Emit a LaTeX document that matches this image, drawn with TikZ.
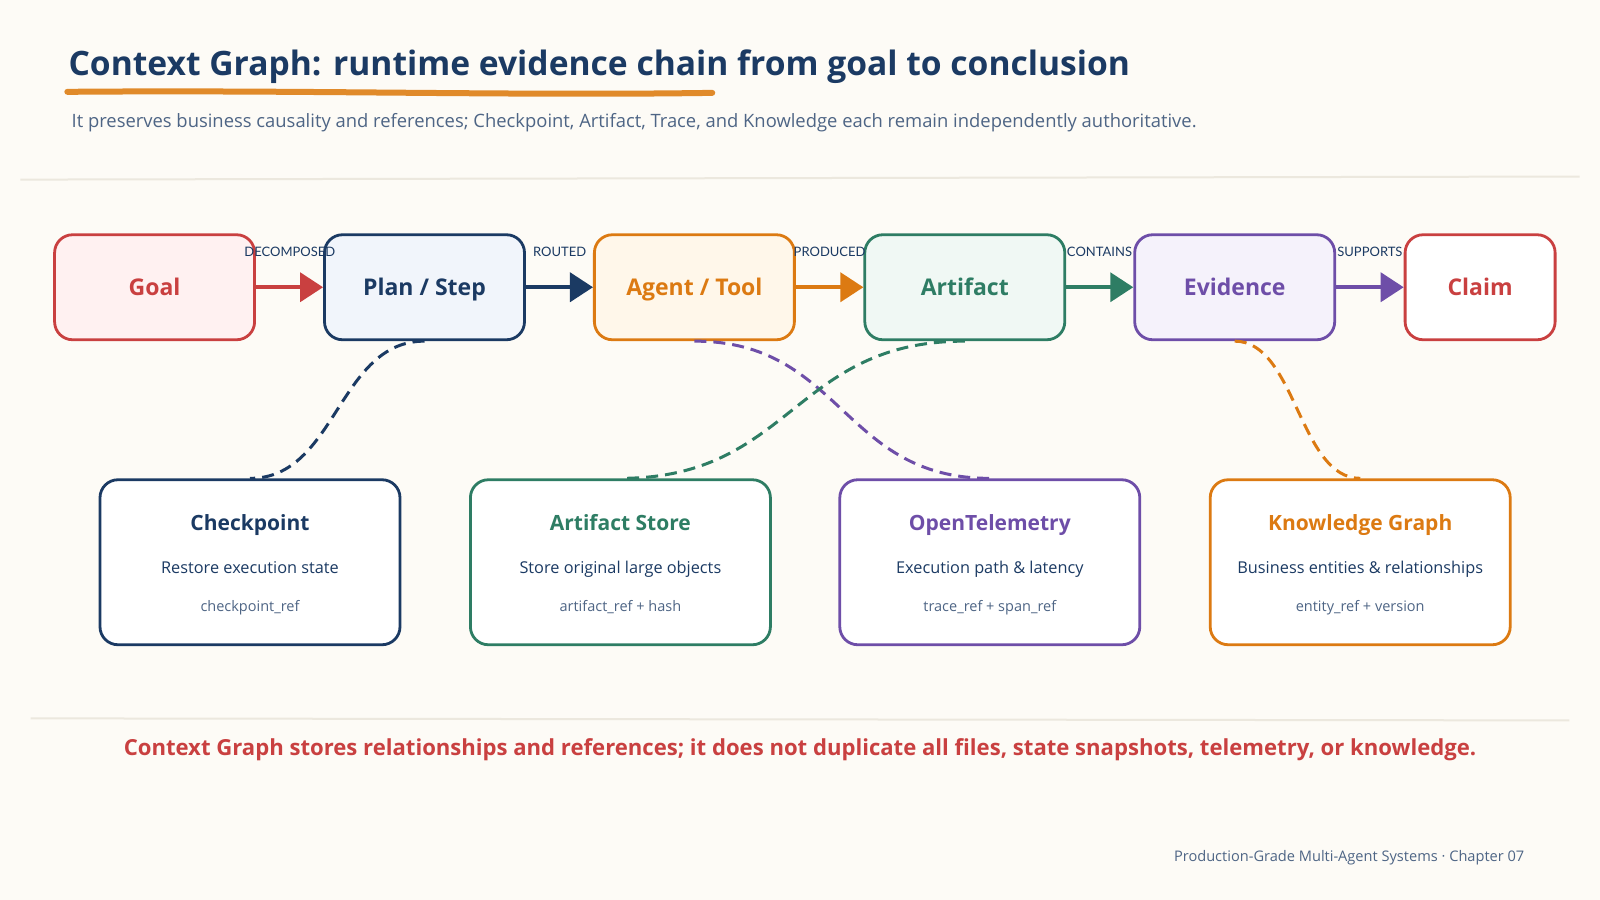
\documentclass[tikz,border=0pt]{standalone}
\usepackage{fontspec}
\setmainfont{Open Sans}
\newfontfamily\lblfont{Lato}
\usetikzlibrary{arrows.meta}
\definecolor{bg}{HTML}{FDFBF6}
\definecolor{navy}{HTML}{1B3A63}
\definecolor{cred}{HTML}{C94040}
\definecolor{corange}{HTML}{DC7A12}
\definecolor{cgreen}{HTML}{2E7D64}
\definecolor{cpurple}{HTML}{6E4EA8}
\definecolor{subgray}{HTML}{4E6585}
\definecolor{sepline}{HTML}{ECE8DE}
\definecolor{uline}{HTML}{E08A2A}
\definecolor{pinkfill}{HTML}{FFF1F1}
\definecolor{bluefill}{HTML}{F1F5FB}
\definecolor{creamfill}{HTML}{FFF7EA}
\definecolor{greenfill}{HTML}{F0F8F4}
\definecolor{lavfill}{HTML}{F5F2FB}
\newcommand{\fsz}[1]{\fontsize{#1}{#1}\selectfont}
\tikzset{
  topbox/.style={rectangle, rounded corners=18pt, line width=2.8pt, minimum width=200pt, minimum height=105pt, font=\fsz{23}\bfseries, inner sep=0pt, text height=16.5pt, text depth=0pt},
  botbox/.style={rectangle, rounded corners=18pt, line width=2.8pt, fill=white, minimum width=300pt, minimum height=165pt, inner sep=0pt},
  flow/.style={line width=3.8pt, -{Triangle[length=23pt,width=29pt]}},
  elabel/.style={font=\lblfont\fsz{13}, text=navy, inner sep=1pt},
  link/.style={line width=3pt, dash pattern=on 12pt off 7pt},
  btitle/.style={font=\fsz{21}\bfseries, inner sep=0pt, anchor=base},
  bdesc/.style={font=\fsz{16.3}, text=navy, inner sep=0pt, anchor=base},
  bref/.style={font=\fsz{14.5}, text=subgray, inner sep=0pt, anchor=base},
}
\begin{document}
\begin{tikzpicture}[x=1.0204pt, y=-1.0204pt]
\fill[bg] (0,0) rectangle (1568,882);
\useasboundingbox (0,0) rectangle (1568,882);

% title
\node[anchor=west, text=navy, font=\fsz{33.6}\bfseries, inner sep=0pt] (title) at (67,65.5) {Context Graph: runtime evidence chain from goal to conclusion};
\draw[uline, line width=6pt, line cap=round] (66,90) .. controls (300,88) and (500,94) .. (698,91);
\node[anchor=west, text=subgray, font=\fsz{18.4}, inner sep=0pt] (subtitle) at (70,120.5) {It preserves business causality and references; Checkpoint, Artifact, Trace, and Knowledge each remain independently authoritative.};
\draw[sepline, line width=2pt] (20,176) -- (1548,173);

% top row
\node[topbox, draw=cred, fill=pinkfill, text=cred] (goal) at (151.5,281.5) {Goal};
\node[topbox, draw=navy, fill=bluefill, text=navy] (plan) at (416,281.5) {Plan / Step};
\node[topbox, draw=corange, fill=creamfill, text=corange] (agent) at (680.5,281.5) {Agent / Tool};
\node[topbox, draw=cgreen, fill=greenfill, text=cgreen] (artifact) at (945.5,281.5) {Artifact};
\node[topbox, draw=cpurple, fill=lavfill, text=cpurple] (evidence) at (1210,281.5) {Evidence};
\node[topbox, draw=cred, fill=white, text=cred, minimum width=150pt] (claim) at (1450.5,281.5) {Claim};

\draw[flow, cred] (goal) -- (plan);
\draw[flow, navy] (plan) -- (agent);
\draw[flow, corange] (agent) -- (artifact);
\draw[flow, cgreen] (artifact) -- (evidence);
\draw[flow, cpurple] (evidence) -- (claim);

\node[elabel] (l1) at (284,247) {DECOMPOSED};
\node[elabel] (l2) at (548.5,247) {ROUTED};
\node[elabel] (l3) at (813,247) {PRODUCED};
\node[elabel] (l4) at (1077.5,247) {CONTAINS};
\node[elabel] (l5) at (1342.5,247) {SUPPORTS};

% bottom row
\node[botbox, draw=navy] (cp) at (245,551) {};
\node[botbox, draw=cgreen] (as) at (608,551) {};
\node[botbox, draw=cpurple] (ot) at (970,551) {};
\node[botbox, draw=corange] (kg) at (1333,551) {};

\node[btitle, text=navy] (cpT) at (245,520) {Checkpoint};
\node[bdesc] (cpD) at (245,562) {Restore execution state};
\node[bref] (cpR) at (245,599.5) {checkpoint\_ref};

\node[btitle, text=cgreen] (asT) at (608,520) {Artifact Store};
\node[bdesc] (asD) at (608,562) {Store original large objects};
\node[bref] (asR) at (608,599.5) {artifact\_ref + hash};

\node[btitle, text=cpurple] (otT) at (970,520) {OpenTelemetry};
\node[bdesc] (otD) at (970,562) {Execution path \& latency};
\node[bref] (otR) at (970,599.5) {trace\_ref + span\_ref};

\node[btitle, text=corange] (kgT) at (1333,520) {Knowledge Graph};
\node[bdesc] (kgD) at (1333,562) {Business entities \& relationships};
\node[bref] (kgR) at (1333,599.5) {entity\_ref + version};

% dashed links
\draw[link, navy] (plan.south) .. controls +(-85,0) and +(85,0) .. (cp.north);
\draw[link, cpurple] (agent.south) .. controls +(145,0) and +(-145,0) .. (ot.north);
\draw[link, cgreen] (artifact.south) .. controls +(-168,0) and +(168,0) .. (as.north);
\draw[link, corange] (evidence.south) .. controls +(60,0) and +(-60,0) .. (kg.north);

% footer
\draw[sepline, line width=2pt] (30,704) -- (1538,706);
\node[text=cred, font=\fsz{22.1}\bfseries, inner sep=0pt] (note) at (784,734.5) {Context Graph stores relationships and references; it does not duplicate all files, state snapshots, telemetry, or knowledge.};
\node[anchor=east, text=subgray, font=\fsz{14.6}, inner sep=0pt] (credit) at (1494,841) {Production-Grade Multi-Agent Systems · Chapter 07};
\end{tikzpicture}
\end{document}
